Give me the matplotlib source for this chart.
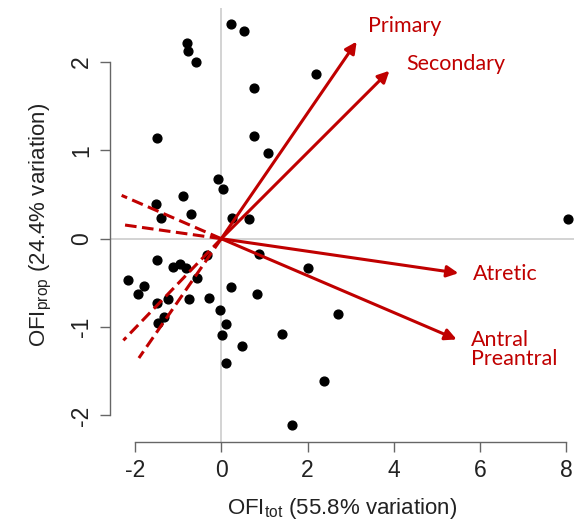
import numpy as np
import matplotlib
matplotlib.use("Agg")
import matplotlib.pyplot as plt

plt.rcParams['font.family'] = ['Liberation Sans', 'DejaVu Sans']
plt.rcParams['mathtext.fontset'] = 'custom'
plt.rcParams['mathtext.rm'] = 'Liberation Sans'
plt.rcParams['mathtext.it'] = 'Liberation Sans'
plt.rcParams['axes.unicode_minus'] = False

# sample scores (PC1, PC2)
score_x = [0.22, 0.52, -0.80, -0.76, -0.59, 2.20, 0.75, -1.49, 0.77, 1.08,
           -0.08, 0.04, 0.26, 0.65, -0.88, -1.52, -0.70, -1.39, 8.03, -0.33,
           0.88, 2.00, -1.50, -1.13, -0.96, -0.82, -0.56, -2.16, -1.79, -1.92,
           -1.50, -1.24, -0.74, -0.29, 0.23, 0.82, -1.32, -1.47, -0.03, 0.12,
           0.01, 0.47, 0.11, 2.70, 1.42, 2.38, 1.63]
score_y = [2.43, 2.35, 2.21, 2.12, 2.00, 1.86, 1.71, 1.14, 1.16, 0.97,
           0.67, 0.56, 0.23, 0.22, 0.48, 0.39, 0.28, 0.23, 0.22, -0.18,
           -0.17, -0.33, -0.24, -0.32, -0.29, -0.33, -0.44, -0.47, -0.53, -0.63,
           -0.73, -0.68, -0.68, -0.67, -0.55, -0.63, -0.89, -0.95, -0.81, -0.96,
           -1.09, -1.21, -1.41, -0.85, -1.08, -1.61, -2.11]

# labelled loadings (arrows)
load_names = ['Primary', 'Secondary', 'Atretic', 'Antral\nPreantral']
load_x = [3.14, 3.90, 5.50, 5.46]
load_y = [2.23, 1.90, -0.39, -1.14]

# unlabelled loadings (dashed)
dash_x = [-2.31, -2.31, -2.27, -1.91]
dash_y = [0.49, 0.16, -1.15, -1.35]

# label anchor points
name_x = [3.40, 4.30, 5.83, 5.80]
name_y = [2.41, 1.98, -0.40, -1.25]

red = '#C00000'
axcol = '#666666'

fig = plt.figure(figsize=(5.74, 5.21), dpi=100)
ax = fig.add_axes([110 / 574, 1 - 442 / 521, 464 / 574, 434 / 521])
ax.set_xlim(-2.58, 8.18)
ax.set_ylim(-2.30, 2.61)

ax.axhline(0, color='#cccccc', lw=1.2, zorder=0)
ax.axvline(0, color='#cccccc', lw=1.2, zorder=0)

ax.scatter(score_x, score_y, s=40, color='black', zorder=2)

for x, y in zip(dash_x, dash_y):
    ax.plot([0, x], [0, y], color=red, lw=2.2, ls=(0, (3.8, 1.8)), zorder=3)

for x, y in zip(load_x, load_y):
    ax.annotate('', xy=(x, y), xytext=(0, 0),
                arrowprops=dict(arrowstyle='-|>', color=red, lw=2.2,
                                mutation_scale=17, shrinkA=0, shrinkB=0),
                zorder=3)

for name, x, y in zip(load_names, name_x, name_y):
    ax.text(x, y, name, color=red, fontsize=15.5, family=['Lato', 'DejaVu Sans'],
            ha='left', va='center', linespacing=0.95)

for side in ['top', 'right']:
    ax.spines[side].set_visible(False)
ax.spines['left'].set_bounds(-2, 2)
ax.spines['bottom'].set_bounds(-2, 8)
for side in ['left', 'bottom']:
    ax.spines[side].set_color(axcol)
    ax.spines[side].set_linewidth(1.0)

ax.set_xticks([-2, 0, 2, 4, 6, 8])
ax.set_yticks([-2, -1, 0, 1, 2])
ax.tick_params(direction='out', length=7, width=1.0, color=axcol,
               labelsize=16.5, labelcolor='#222222', pad=5)
plt.setp(ax.get_yticklabels(), rotation=90, va='center')

ax.set_xlabel(r'OFI$_{\mathrm{tot}}$ (55.8% variation)', fontsize=16,
              color='#222222', labelpad=10)
ax.set_ylabel(r'OFI$_{\mathrm{prop}}$ (24.4% variation)', fontsize=16,
              color='#222222', labelpad=12)

fig.savefig('out.png', dpi=100)
